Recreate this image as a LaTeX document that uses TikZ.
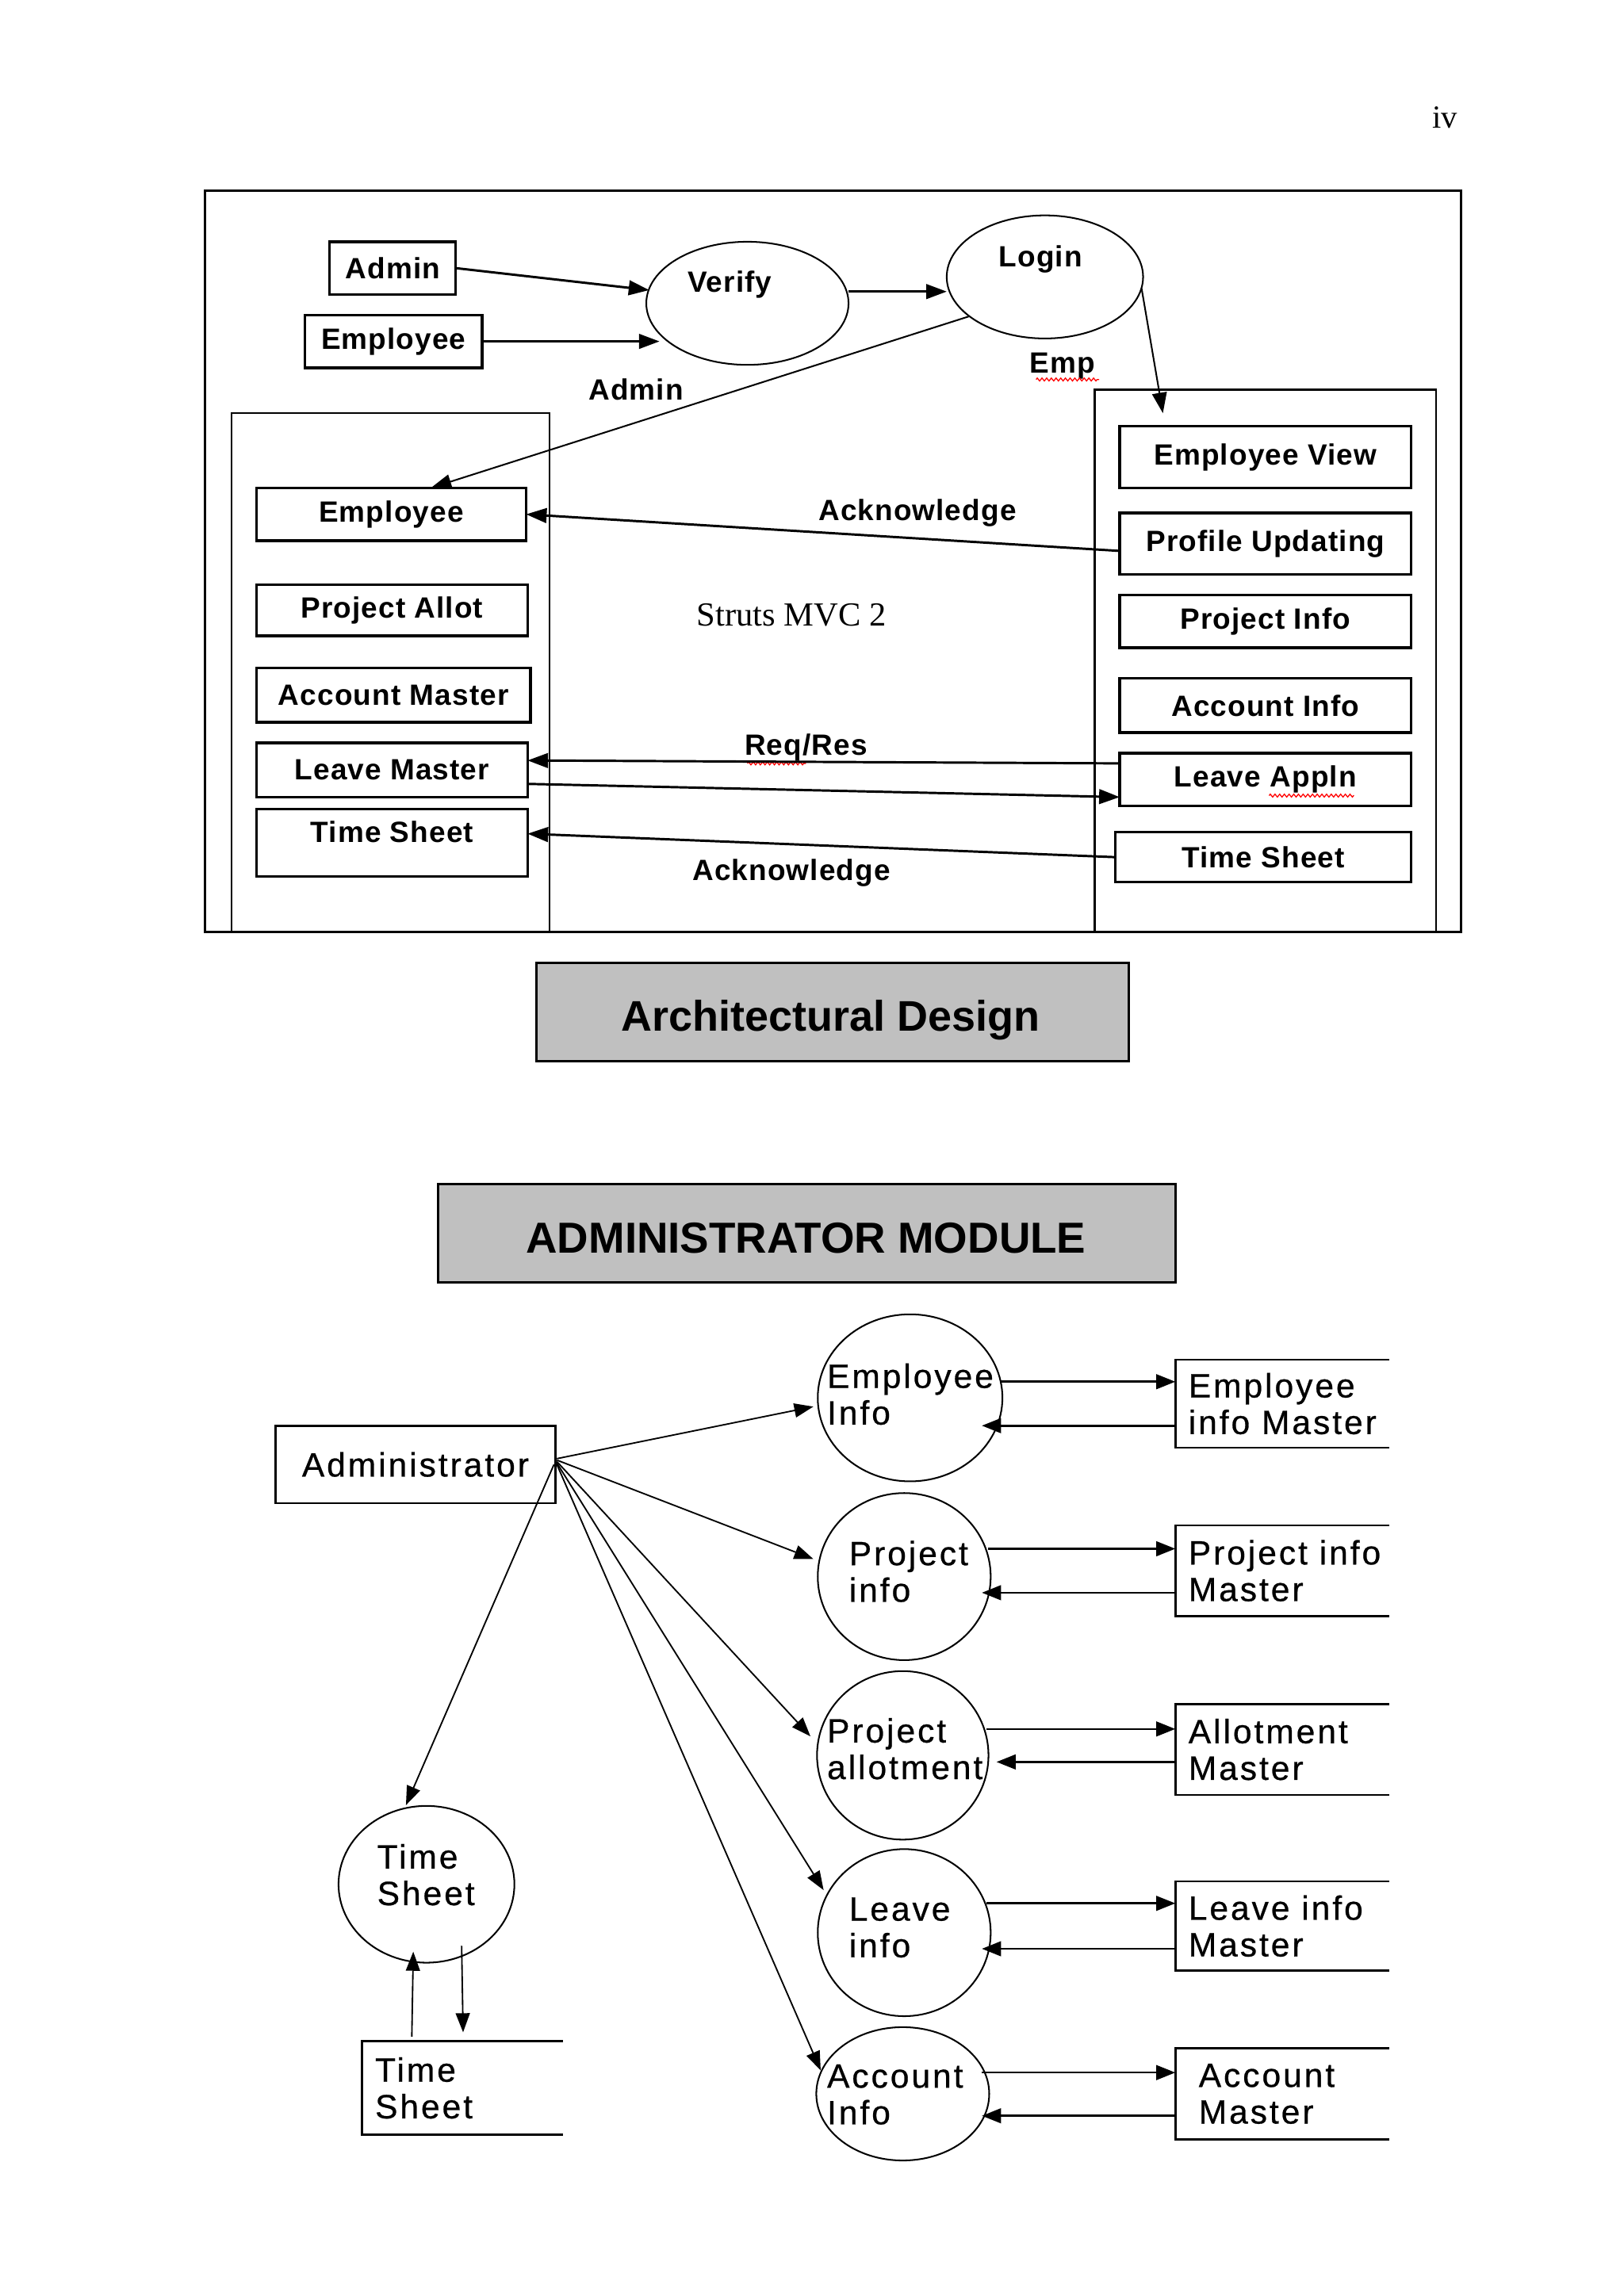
\documentclass[tikz,border=0pt]{standalone}
\usepackage{fontspec}
\setmainfont{Liberation Serif}
\newfontfamily\topfont{Liberation Sans}[LetterSpace=3]
\newfontfamily\botfont{Liberation Sans}[LetterSpace=7,FakeBold=0.6]
\newfontfamily\titlefont{Liberation Sans}
\usetikzlibrary{arrows.meta,calc,shapes.geometric,decorations.pathmorphing}
\definecolor{tgray}{RGB}{192,192,192}
\begin{document}
\begin{tikzpicture}[x=0.5pt,y=-0.5pt,
  wh/.style 2 args={minimum width=#1*0.5pt, minimum height=#2*0.5pt},
  frame/.style={draw, line width=0.8pt, inner sep=0pt, outer sep=0pt},
  colbox/.style={draw, line width=0.6pt, inner sep=0pt, outer sep=0pt},
  tbox/.style={draw, line width=0.9pt, inner sep=0pt, outer sep=0pt, font={\fontsize{10}{12}\topfont\bfseries}},
  ttext/.style={inner sep=0pt, font={\fontsize{10}{12}\topfont\bfseries}},
  ell/.style={draw, ellipse, line width=0.55pt, inner sep=0pt, outer sep=0pt},
  title/.style={draw, fill=tgray, line width=0.8pt, inner sep=0pt, outer sep=0pt},
  titletext/.style={inner sep=0pt, anchor=base, font={\fontsize{14.6}{17}\titlefont\bfseries}},
  bbox/.style={draw, line width=0.7pt, inner sep=0pt, outer sep=0pt, font={\fontsize{11.5}{12.5}\botfont}},
  btext/.style={inner sep=0pt, align=left, font={\fontsize{11.5}{12.5}\botfont}},
  mbox/.style={inner xsep=4.5pt, inner ysep=0pt, outer sep=0pt, align=left, font={\fontsize{11.5}{12.5}\botfont}},
  bline/.style={line width=0.7pt},
  tarr/.style={line width=0.8pt, -{Triangle[length=7pt,width=5pt]}},
  tarrthin/.style={line width=0.55pt, -{Triangle[length=7pt,width=5pt]}},
  barr/.style={line width=0.5pt, -{Triangle[length=6.5pt,width=4.8pt]}},
  harr/.style={line width=0.7pt, -{Triangle[length=6.5pt,width=5pt]}},
  wavy/.style={red, line width=0.35pt, decorate, decoration={zigzag, segment length=1.6pt, amplitude=0.5pt}}
]
\fill[white] (0,0) rectangle (1108,1567);
\useasboundingbox (0,0) rectangle (1108,1567);

% page number
\node[inner sep=0pt, font={\fontsize{11}{13}\selectfont}] (pg) at (986,80) {iv};

% ---------- Architectural design ----------
\node[frame, wh={857}{506}] (frm) at (568.5,383) {};
\node[colbox, wh={217}{354}] (lcol) at (266.5,459) {};
\node[colbox, wh={233}{370}] (rcol) at (863.5,451) {};

\node[tbox, wh={86}{36}] (admin) at (268,183) {Admin};
\node[tbox, wh={121}{36}] (emp) at (268.5,233) {Employee};
\node[ell, wh={138}{84}] (verify) at (510,207) {};
\node[ttext] (verifyt) at (498,194) {Verify};
\node[ell, wh={134}{84}] (login) at (713,189) {};
\node[ttext] (logint) at (710,177) {Login};

\node[tbox, wh={184}{36}] (lemp) at (267,351) {Employee};
\node[tbox, wh={185}{35}] (lpa) at (267.5,416.5) {Project Allot};
\node[tbox, wh={187}{37}] (lam) at (268.5,474.5) {Account Master};
\node[tbox, wh={185}{37}] (llm) at (267.5,525.5) {Leave Master};
\node[tbox, wh={185}{46}] (lts) at (267.5,575) {};
\node[ttext] (ltst) at (267.5,568) {Time Sheet};

\node[tbox, wh={199}{42}] (rev) at (863.5,312) {Employee View};
\node[tbox, wh={199}{42}] (rpu) at (863.5,371) {Profile Updating};
\node[tbox, wh={199}{36}] (rpi) at (863.5,424) {Project Info};
\node[tbox, wh={199}{37}] (rai) at (863.5,481.5) {Account Info};
\node[tbox, wh={199}{36}] (rla) at (863.5,532) {Leave Appln};
\node[tbox, wh={202}{34}] (rts) at (862,585) {Time Sheet};

\node[ttext] (lbadmin) at (434,266) {Admin};
\node[ttext] (lbemp) at (725,250) {Emp};
\node[ttext] (lback1) at (626,350) {Acknowledge};
\node[ttext] (lbreq) at (550,510) {Req/Res};
\node[ttext] (lback2) at (540,596) {Acknowledge};
\node[inner sep=0pt, font={\fontsize{11.5}{13}\selectfont}] (struts) at (540,420) {Struts MVC 2};

\draw[wavy] (707,259) -- (750,259);
\draw[wavy] (510,521) -- (550,521);
\draw[wavy] (866,543) -- (924,543);

\draw[tarr] (admin.east) -- ($(verify.center)+(-67,-9)$);
\draw[tarr] (emp.east) -- ($(verify.center)+(-60,26)$);
\draw[tarr] ($(verify.east)+(0,-8)$) -- ($(login.west)+(0,10)$);
\draw[tarrthin] ($(login.center)+(-52,27)$) -- ($(lemp.north)+(27,0)$);
\draw[tarrthin] ($(login.center)+(66,8)$) -- ($(rev.north)+(-70,-9)$);
\draw[tarr] ($(rpu.west)+(0,5)$) -- (lemp.east);
\draw[tarr] ($(rla.west)+(0,-11)$) -- ($(llm.east)+(0,-6.5)$);
\draw[tarr] ($(llm.east)+(0,9.5)$) -- ($(rla.west)+(0,12)$);
\draw[tarr] (rts.west) -- ($(lts.east)+(0,-6)$);

% ---------- titles ----------
\node[title, wh={404}{67}] (tad) at (568,690.5) {};
\node[titletext] (tadt) at (567,703.5) {Architectural Design};
\node[title, wh={503}{67}] (tam) at (550.5,841.5) {};
\node[titletext, font={\fontsize{14.8}{17}\titlefont\bfseries}] (tamt) at (550,855) {ADMINISTRATOR MODULE};

% ---------- Administrator module ----------
\node[bbox, wh={191}{53}] (adm) at (283.5,999.5) {Administrator};

\node[ell, wh={126}{114}] (ei) at (621,954) {};
\node[btext, anchor=west] (eit) at (564,951.5) {Employee\\Info};
\node[ell, wh={118}{114}] (pi) at (617,1076) {};
\node[btext, anchor=west] (pit) at (579,1072.5) {Project\\info};
\node[ell, wh={117}{115}] (pa) at (616,1198) {};
\node[btext, anchor=west] (pat) at (564,1193.5) {Project\\allotment};
\node[ell, wh={118}{114}] (li) at (617,1319) {};
\node[btext, anchor=west] (lit) at (579,1315.5) {Leave\\info};
\node[ell, wh={118}{91}] (ai) at (616,1429) {};
\node[btext, anchor=west] (ait) at (564,1429.5) {Account\\Info};
\node[ell, wh={120}{107}] (ts) at (291,1286) {};
\node[btext, anchor=west] (tst) at (257,1279.5) {Time\\Sheet};

\node[mbox, anchor=west, minimum height=30pt] (eim) at (802,958) {Employee\\info Master};
\draw[bline] ($(eim.north west)+(146,0)$) -- (eim.north west) -- (eim.south west) -- ($(eim.south west)+(146,0)$);
\node[mbox, anchor=west, minimum height=31pt] (pim) at (802,1072) {Project info\\Master};
\draw[bline] ($(pim.north west)+(146,0)$) -- (pim.north west) -- (pim.south west) -- ($(pim.south west)+(146,0)$);
\node[mbox, anchor=west, minimum height=31pt] (alm) at (802,1194) {Allotment\\Master};
\draw[bline] ($(alm.north west)+(146,0)$) -- (alm.north west) -- (alm.south west) -- ($(alm.south west)+(146,0)$);
\node[mbox, anchor=west, minimum height=30.5pt] (lim) at (802,1314.5) {Leave info\\Master};
\draw[bline] ($(lim.north west)+(146,0)$) -- (lim.north west) -- (lim.south west) -- ($(lim.south west)+(146,0)$);
\node[mbox, anchor=west, inner xsep=8pt, minimum height=31pt] (acm) at (802,1429) {Account\\Master};
\draw[bline] ($(acm.north west)+(146,0)$) -- (acm.north west) -- (acm.south west) -- ($(acm.south west)+(146,0)$);
\node[mbox, anchor=west, minimum height=32pt] (tss) at (247,1425) {Time\\Sheet};
\draw[bline] ($(tss.north west)+(137,0)$) -- (tss.north west) -- (tss.south west) -- ($(tss.south west)+(137,0)$);

\draw[barr] ($(adm.east)+(1,-4)$) -- ($(ei.center)+(-66,6)$);
\draw[barr] ($(adm.east)+(1,-3)$) -- ($(pi.center)+(-62,-12)$);
\draw[barr] ($(adm.east)+(1,-2)$) -- ($(pa.center)+(-63,-13)$);
\draw[barr] ($(adm.east)+(1,-1)$) -- ($(li.center)+(-55,-29)$);
\draw[barr] ($(adm.east)+(1,0)$) -- ($(ai.center)+(-56,-16)$);
\draw[barr] ($(adm.east)+(-1,0)$) -- ($(ts.center)+(-14,-54)$);

\draw[harr] ($(ei.center)+(62,-11)$) -- ($(eim.west)+(0,-15)$);
\draw[harr] ($(eim.west)+(0,15)$) -- ($(ei.center)+(49,19)$);
\draw[harr] ($(pi.center)+(57,-19)$) -- ($(pim.west)+(0,-15)$);
\draw[harr] ($(pim.west)+(0,15)$) -- ($(pi.center)+(53,11)$);
\draw[harr] ($(pa.center)+(57,-18)$) -- ($(alm.west)+(0,-14)$);
\draw[harr] ($(alm.west)+(0,8.5)$) -- ($(pa.center)+(64,4.5)$);
\draw[harr] ($(li.center)+(56,-20)$) -- ($(lim.west)+(0,-15.5)$);
\draw[harr] ($(lim.west)+(0,15.5)$) -- ($(li.center)+(53,11)$);
\draw[harr] ($(ai.center)+(54,-14.5)$) -- ($(acm.west)+(0,-14.5)$);
\draw[harr] ($(acm.west)+(0,15)$) -- ($(ai.center)+(54,15)$);

\draw[barr] ($(tss.north west)+(34,-3)$) -- ($(ts.center)+(-9,46)$);
\draw[barr] ($(ts.center)+(24,42)$) -- ($(tss.north west)+(69,-6)$);
\end{tikzpicture}
\end{document}
